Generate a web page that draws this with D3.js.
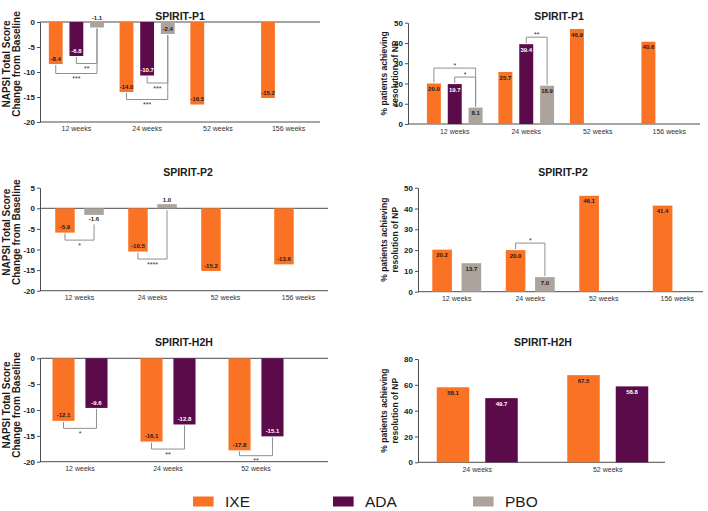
<!DOCTYPE html>
<html>
<head>
<meta charset="utf-8">
<script src="https://cdn.jsdelivr.net/npm/d3@7"></script>
<style>
  body { margin: 0; background: #ffffff; }
  svg { font-family: "Liberation Sans", Arial, sans-serif; }
  .axis path, .axis line { stroke: #4d4d4d; }
  .axis text { font-size: 8px; font-weight: bold; fill: #222; }
</style>
</head>
<body>
<div id="chart"></div>
<script>
//series and colours
const seriesNames = ["IXE", "ADA", "PBO"];
const seriesColours = {IXE: "#FA7325", ADA: "#5C0B4A", PBO: "#ABA39C"};

//categories
const weeks4 = ["12 weeks", "24 weeks", "52 weeks", "156 weeks"];
const weeksH2hNapsi = ["12 weeks", "24 weeks", "52 weeks"];
const weeksH2hNp = ["24 weeks", "52 weeks"];

//NAPSI total score change from baseline
const p1NapsiIXE = [-8.4, -14.0, -16.5, -15.2];
const p1NapsiADA = [-6.8, -10.7, null, null];
const p1NapsiPBO = [-1.1, -2.4, null, null];
const p2NapsiIXE = [-5.9, -10.5, -15.2, -13.6];
const p2NapsiPBO = [-1.6, 1.0, null, null];
const h2hNapsiIXE = [-12.1, -16.1, -17.8];
const h2hNapsiADA = [-9.6, -12.8, -15.1];

//% patients achieving resolution of NP
const p1NpIXE = [20.0, 25.7, 46.9, 40.6];
const p1NpADA = [19.7, 39.4, null, null];
const p1NpPBO = [8.1, 18.9, null, null];
const p2NpIXE = [20.2, 20.0, 46.1, 41.4];
const p2NpPBO = [13.7, 7.0, null, null];
const h2hNpIXE = [58.1, 67.5];
const h2hNpADA = [49.7, 58.8];

//significance brackets: [category, from, to, label]
const p1NapsiSig = [["12 weeks", "ADA", "PBO", "**"], ["12 weeks", "IXE", "PBO", "***"],
                    ["24 weeks", "ADA", "PBO", "***"], ["24 weeks", "IXE", "PBO", "***"]];
const p2NapsiSig = [["12 weeks", "IXE", "PBO", "*"], ["24 weeks", "IXE", "PBO", "****"]];
const h2hNapsiSig = [["12 weeks", "IXE", "ADA", "*"], ["24 weeks", "IXE", "ADA", "**"], ["52 weeks", "IXE", "ADA", "**"]];
const p1NpSig = [["12 weeks", "ADA", "PBO", "*"], ["12 weeks", "IXE", "PBO", "*"], ["24 weeks", "ADA", "PBO", "**"]];
const p2NpSig = [["24 weeks", "IXE", "PBO", "*"]];
const h2hNpSig = [];

//tick labels
const napsiTicks = [0, -5, -10, -15, -20];
const napsiTicksP2 = [5, 0, -5, -10, -15, -20];
const npTicks = [0, 10, 20, 30, 40, 50];
const npTicksH2h = [0, 20, 40, 60, 80];

const napsiTitle = ["NAPSI Total Score", "Change from Baseline"];
const npTitle = ["% patients achieving", "resolution of NP"];

//panel layout
const panels = [
  {title: "SPIRIT-P1", cats: weeks4, series: {IXE: p1NapsiIXE, ADA: p1NapsiADA, PBO: p1NapsiPBO}, sig: p1NapsiSig,
   ticks: napsiTicks, yTitle: napsiTitle, axisX: 40, xRange: [41, 324], outer: 0.38, axisEnd: 320,
   yRange: [122, 22], titleXY: [180, 20], catY: 131, yTitleX: [9.5, 20], yTitleShift: -8},
  {title: "SPIRIT-P1", cats: weeks4, series: {IXE: p1NpIXE, ADA: p1NpADA, PBO: p1NpPBO}, sig: p1NpSig,
   ticks: npTicks, yTitle: npTitle, axisX: 408, xRange: [419, 705], outer: 0.38, axisEnd: 700,
   yRange: [124, 22.7], titleXY: [559, 20], catY: 133.5, yTitleX: [387, 398], yTitleShift: 0},
  {title: "SPIRIT-P2", cats: weeks4, series: {IXE: p2NapsiIXE, PBO: p2NapsiPBO}, sig: p2NapsiSig,
   ticks: napsiTicksP2, yTitle: napsiTitle, axisX: 40, xRange: [43, 335], outer: 0.42, axisEnd: 328,
   yRange: [290.7, 187.7], titleXY: [188, 175.5], catY: 299.5, yTitleX: [9.5, 20], yTitleShift: -7},
  {title: "SPIRIT-P2", cats: weeks4, series: {IXE: p2NpIXE, PBO: p2NpPBO}, sig: p2NpSig,
   ticks: npTicks, yTitle: npTitle, axisX: 418, xRange: [420, 714], outer: 0.42, axisEnd: 703,
   yRange: [291.7, 187.7], titleXY: [563, 175.5], catY: 300.5, yTitleX: [387, 398], yTitleShift: 0},
  {title: "SPIRIT-H2H", cats: weeksH2hNapsi, series: {IXE: h2hNapsiIXE, ADA: h2hNapsiADA}, sig: h2hNapsiSig,
   ticks: napsiTicks, yTitle: napsiTitle, axisX: 40, xRange: [36, 300], outer: 0.5, axisEnd: 328,
   yRange: [461.7, 358.3], titleXY: [184, 346], catY: 471, yTitleX: [9.5, 20], yTitleShift: -5},
  {title: "SPIRIT-H2H", cats: weeksH2hNp, series: {IXE: h2hNpIXE, ADA: h2hNpADA}, sig: h2hNpSig,
   ticks: npTicksH2h, yTitle: npTitle, axisX: 418, xRange: [412, 673], outer: 0.51, axisEnd: 665,
   yRange: [462.3, 359], titleXY: [543, 346], catY: 472, yTitleX: [387, 398], yTitleShift: 0}
];

const width = 708, height = 511;
// plain hyphen for negatives, like the source figure
const locale = d3.formatLocale({decimal: ".", thousands: ",", grouping: [3], currency: ["", ""], minus: "-"});
const fmt = locale.format('.1f');
const tickFmt = locale.format('d');

let svg = d3.select("#chart")
            .append("svg")
            .attr("width", width)
            .attr("height", height);

panels.forEach(p => {
  let g = svg.append('g');
  let keys = seriesNames.filter(k => p.series[k]);
  let neg = d3.min(p.ticks) < 0;

  let x0 = d3.scaleBand().domain(p.cats).range(p.xRange);
  let x1 = d3.scaleBand().domain(keys).range([0, x0.bandwidth()])
             .paddingInner(0.33).paddingOuter(p.outer);
  let y = d3.scaleLinear().domain(d3.extent(p.ticks)).range(p.yRange);

  //title
  g.append('text')
   .attr('x', p.titleXY[0]).attr('y', p.titleXY[1])
   .style('text-anchor', 'middle').style('font-size', '10.5px').style('font-weight', 'bold')
   .style('fill', '#1a1a1a')
   .text(p.title);

  //y axis title
  let yMid = (p.yRange[0] + p.yRange[1]) / 2 + p.yTitleShift;
  p.yTitle.forEach((t, i) => {
    g.append('text')
     .attr('transform', `translate(${p.yTitleX[i]},${yMid}) rotate(-90)`)
     .style('text-anchor', 'middle').style('font-weight', 'bold')
     .style('font-size', neg ? '10px' : '8.5px').style('fill', '#1a1a1a')
     .text(t);
  });

  //axis
  g.append('g')
   .attr('class', 'axis')
   .attr('transform', `translate(${p.axisX},0)`)
   .call(d3.axisLeft(y).tickValues(p.ticks).tickSize(3).tickSizeOuter(0).tickPadding(2).tickFormat(tickFmt));

  let hLines = neg ? [0, d3.min(p.ticks)] : [0];
  g.selectAll('line.hline')
   .data(hLines)
   .enter()
   .append('line')
   .attr('class', 'hline')
   .attr('x1', p.axisX).attr('x2', p.axisEnd)
   .attr('y1', d => y(d)).attr('y2', d => y(d))
   .style('stroke', '#4d4d4d').style('stroke-width', 1);

  //category labels
  g.selectAll('text.cat')
   .data(p.cats)
   .enter()
   .append('text')
   .attr('class', 'cat')
   .attr('x', d => x0(d) + x0.bandwidth() / 2)
   .attr('y', p.catY)
   .style('text-anchor', 'middle').style('font-size', '7px').style('fill', '#333')
   .text(d => d);

  //bars
  let bars = [];
  p.cats.forEach((c, i) => keys.forEach(k => {
    let v = p.series[k][i];
    if (v !== null && v !== undefined) bars.push({cat: c, key: k, value: v});
  }));

  bars.forEach(d => {
    let len = Math.abs(y(d.value) - y(0));
    if (d.value < 0) {
      if (len < 6) { d.ly = y(0) - 4.5; d.out = 'zero'; }
      else if (len < 10) { d.ly = y(d.value) + 4.5; d.out = 'end'; }
      else { d.ly = y(d.value) - 5.5; d.out = null; }
    } else {
      if (len < 10) { d.ly = y(d.value) - 4.5; d.out = 'end'; }
      else { d.ly = y(d.value) + 5.5; d.out = null; }
    }
  });

  g.selectAll('rect.bar')
   .data(bars)
   .enter()
   .append('rect')
   .attr('class', 'bar')
   .attr('x', d => x0(d.cat) + x1(d.key))
   .attr('width', x1.bandwidth())
   .attr('y', d => y(Math.max(0, d.value)))
   .attr('height', d => Math.abs(y(d.value) - y(0)))
   .style('fill', d => seriesColours[d.key]);

  g.selectAll('text.valueLabel')
   .data(bars)
   .enter()
   .append('text')
   .attr('class', 'valueLabel')
   .attr('x', d => x0(d.cat) + x1(d.key) + x1.bandwidth() / 2)
   .attr('y', d => d.ly)
   .attr('dy', '0.35em')
   .style('text-anchor', 'middle').style('font-size', '6px').style('font-weight', 'bold')
   .style('fill', d => (!d.out && d.key == 'ADA') ? '#ffffff' : '#1a1a1a')
   .text(d => fmt(d.value));

  //significance brackets
  let placed = [];
  p.sig.forEach(s => {
    let [cat, a, b, label] = s;
    let find = k => bars.find(d => d.cat == cat && d.key == k);
    let ba = find(a), bb = find(b);
    let xa = x0(cat) + x1(a) + x1.bandwidth() / 2;
    let xb = x0(cat) + x1(b) + x1.bandwidth() / 2;
    let span = keys.slice(keys.indexOf(a), keys.indexOf(b) + 1)
                   .map(find).filter(d => d);
    let prev = placed.filter(q => q.cat == cat);
    let level, legEnd, starY;

    if (neg) {
      legEnd = d => d.value >= 0 ? y(0) + 2 : (d.out == 'end' ? d.ly + 5 : y(d.value) + 1);
      level = d3.max(span, d => y(Math.min(0, d.value))) + 7.5;
      prev.forEach(q => level = Math.max(level, q.level + 10));
      level = Math.min(level, y(d3.min(p.ticks)) - 6);
      starY = level + 7.5;
    } else {
      legEnd = d => y(d.value) - 1;
      level = d3.min(span, d => y(d.value)) - 7;
      prev.forEach(q => level = Math.min(level, q.level - 9));
      starY = level;
    }
    placed.push({cat: cat, level: level});

    g.append('path')
     .attr('d', `M${xa},${legEnd(ba)}V${level}H${xb}V${legEnd(bb)}`)
     .style('fill', 'none').style('stroke', '#8f8f8f').style('stroke-width', 1);

    g.append('text')
     .attr('x', (xa + xb) / 2).attr('y', starY)
     .style('text-anchor', 'middle').style('font-size', '7px').style('fill', '#333')
     .text(label);
  });
});

//legend
let legend = svg.selectAll('g.legend')
                .data(seriesNames)
                .enter()
                .append('g')
                .attr('class', 'legend')
                .attr('transform', (d, i) => `translate(${193 + i * 140},496.5)`);

legend.append('rect')
      .attr('width', 20.6).attr('height', 10)
      .style('fill', d => seriesColours[d]);

legend.append('text')
      .attr('x', 32).attr('y', 10)
      .style('font-size', '15.5px').style('fill', '#1a1a1a')
      .text(d => d);
</script>
</body>
</html>
